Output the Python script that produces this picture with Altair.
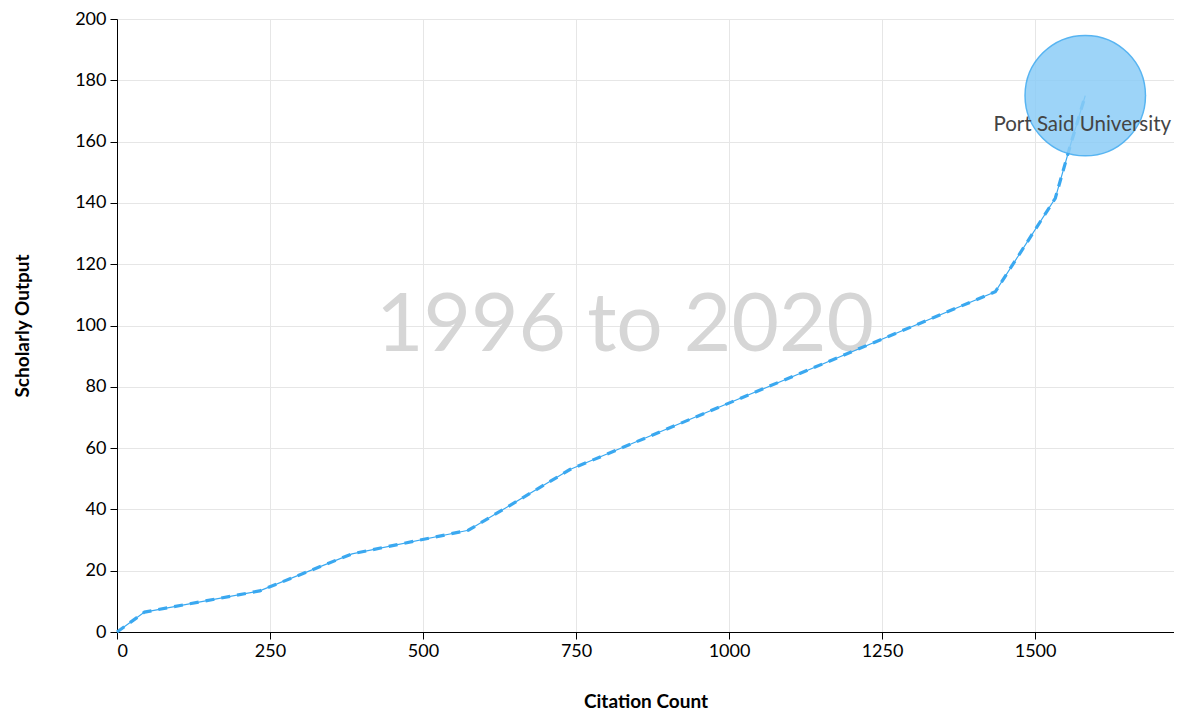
import altair as alt
import pandas as pd

citations = [0, 45, 233, 384, 574, 740, 1435, 1533, 1558, 1582]
output = [0, 6.5, 13.4, 25.5, 33.2, 53, 111, 141.5, 159, 175]
institution = "Port Said University"
period = "1996 to 2020"

df = pd.DataFrame({"Citation Count": citations, "Scholarly Output": output,
                   "order": list(range(len(citations)))})
last = pd.DataFrame({"Citation Count": [citations[-1]], "Scholarly Output": [output[-1]],
                     "name": [institution]})
wm = pd.DataFrame({"x": [830], "y": [100], "t": [period]})

FONT = "Lato"
xs = alt.Scale(domain=[0, 1727], nice=False, zero=True)
ys = alt.Scale(domain=[0, 200], nice=False)

xax = alt.Axis(values=[0, 250, 500, 750, 1000, 1250, 1500], format="d", grid=True,
               gridColor="#e6e6e6", domainColor="#000", tickColor="#000", tickSize=7,
               labelFontSize=18, labelColor="#000", labelFont=FONT, titleFont=FONT,
               titleFontSize=19, titleFontWeight="bold", titlePadding=32, labelPadding=3)
yax = alt.Axis(values=list(range(0, 201, 20)), grid=True, gridColor="#e6e6e6",
               domainColor="#000", tickColor="#000", tickSize=7, labelFontSize=18,
               labelColor="#000", labelFont=FONT, titleFont=FONT, titleFontSize=19,
               titleFontWeight="bold", titlePadding=42, labelPadding=4)

watermark = alt.Chart(wm).mark_text(fontSize=82, color="#d6d6d6", font=FONT,
                                    baseline="middle", align="center").encode(
    x=alt.X("x:Q", scale=xs, axis=xax, title="Citation Count"),
    y=alt.Y("y:Q", scale=ys, axis=yax, title="Scholarly Output"),
    text="t:N")

thin = alt.Chart(df).mark_line(color="#3aa8f0", strokeWidth=1.2).encode(
    x=alt.X("Citation Count:Q", scale=xs), y=alt.Y("Scholarly Output:Q", scale=ys),
    order="order:Q")
dashed = alt.Chart(df).mark_line(color="#3aa8f0", strokeWidth=3.2, strokeDash=[9, 7]).encode(
    x=alt.X("Citation Count:Q", scale=xs), y=alt.Y("Scholarly Output:Q", scale=ys),
    order="order:Q")

bubble = alt.Chart(last).mark_circle(size=14500, color="#8ccdf7", opacity=0.85,
                                     stroke="#3aa8f0", strokeWidth=1.5).encode(
    x=alt.X("Citation Count:Q", scale=xs), y=alt.Y("Scholarly Output:Q", scale=ys))

label = alt.Chart(last).mark_text(fontSize=20.5, color="#444", font=FONT, dy=29, dx=-3,
                                  align="center", baseline="middle").encode(
    x=alt.X("Citation Count:Q", scale=xs), y=alt.Y("Scholarly Output:Q", scale=ys),
    text="name:N")

chart = alt.layer(watermark, thin, dashed, bubble, label).properties(
    width=1057, height=613,
    autosize=alt.AutoSizeParams(type="none"),
    padding={"left": 109, "top": 11, "right": 0, "bottom": 79},
).configure_view(stroke=None, clip=False)

chart.save("out.html", embed_options={"renderer": "svg", "actions": False})
